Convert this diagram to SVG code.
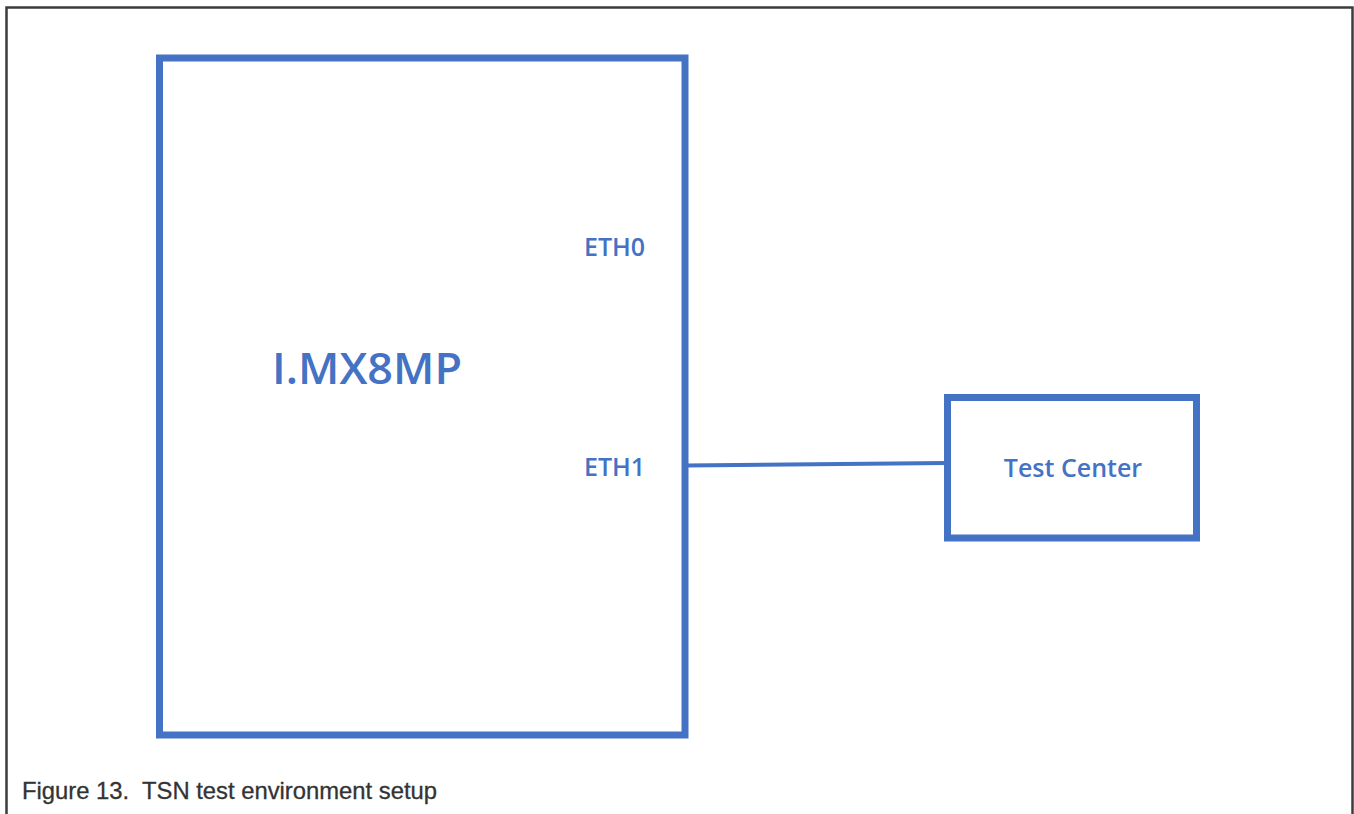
<svg xmlns="http://www.w3.org/2000/svg" width="1354" height="814" viewBox="0 0 1354 814">
<style>
.box{fill:#fff;stroke:#4472C4;stroke-width:7}
.lbl{font-family:"Open Sans","Noto Sans",sans-serif;fill:#4472C4}
.cap{font-family:"Liberation Sans",Arial,sans-serif;fill:#333;font-size:24px;stroke:#333;stroke-width:0.3}
</style>
<rect width="1354" height="814" fill="#fff"/>
<path d="M6.5 814 V7.5 H1352.5 V814" fill="none" stroke="#3c3c3c" stroke-width="2.5"/>
<g id="connectors">
<line x1="685" y1="465.5" x2="947" y2="463" stroke="#4472C4" stroke-width="4.2"/>
</g>
<g id="imx8mp">
<rect class="box" x="159.5" y="58" width="525.5" height="677"/>
<text class="lbl" x="272" y="384" font-size="43" font-weight="600" textLength="190" lengthAdjust="spacingAndGlyphs">I.MX8MP</text>
<text class="lbl" x="584" y="256" font-size="25" font-weight="600">ETH0</text>
<text class="lbl" x="584" y="476" font-size="25" font-weight="600">ETH1</text>
</g>
<g id="testcenter">
<rect class="box" x="947.5" y="397.5" width="249" height="140.5"/>
<text class="lbl" x="1073" y="477" font-size="25" font-weight="600" text-anchor="middle">Test Center</text>
</g>
<text class="cap" x="22" y="799" xml:space="preserve" textLength="415" lengthAdjust="spacingAndGlyphs">Figure 13.  TSN test environment setup</text>
</svg>
